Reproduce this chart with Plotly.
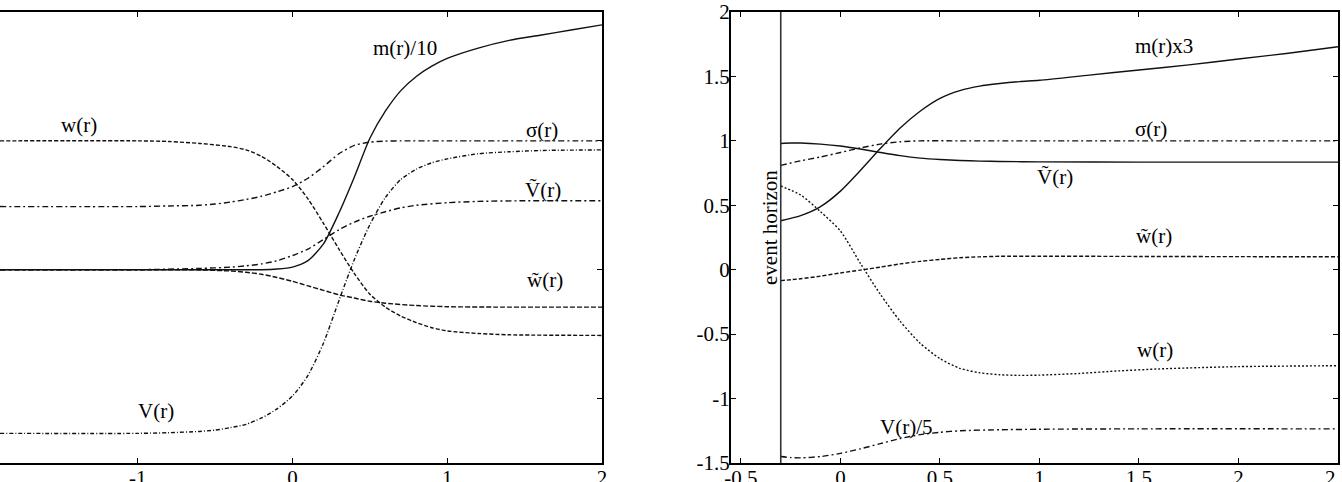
import plotly.graph_objects as go

# ---------------- Left panel data ----------------
m10_x = [-1.89, -1.0, -0.5, -0.3, -0.2, -0.1, 0.0, 0.1, 0.2, 0.3, 0.4, 0.5, 0.6, 0.7, 0.8, 0.9, 1.0, 1.2, 1.4, 1.6, 1.8, 2.0]
m10_y = [0.0, 0.0, 0.0, 0.0, 0.0, 0.005, 0.02, 0.07, 0.2, 0.44, 0.72, 1.02, 1.23, 1.39, 1.50, 1.58, 1.64, 1.72, 1.78, 1.82, 1.86, 1.90]

wL_x = [-1.89, -1.0, -0.8, -0.6, -0.4, -0.3, -0.2, -0.1, 0.0, 0.1, 0.2, 0.3, 0.4, 0.5, 0.6, 0.7, 0.8, 0.9, 1.0, 1.2, 1.4, 2.0]
wL_y = [1.0, 1.0, 0.995, 0.98, 0.955, 0.93, 0.88, 0.80, 0.70, 0.55, 0.36, 0.16, -0.03, -0.19, -0.29, -0.36, -0.41, -0.45, -0.475, -0.495, -0.505, -0.51]

sigL_x = [-1.89, -1.0, -0.8, -0.6, -0.5, -0.4, -0.3, -0.2, -0.1, 0.0, 0.1, 0.2, 0.3, 0.4, 0.5, 0.6, 0.7, 1.0, 2.0]
sigL_y = [0.49, 0.49, 0.495, 0.50, 0.51, 0.525, 0.545, 0.57, 0.605, 0.645, 0.71, 0.80, 0.90, 0.965, 0.99, 0.998, 1.0, 1.0, 1.0]

VtL_x = [-1.89, -1.0, -0.6, -0.4, -0.3, -0.2, -0.1, 0.0, 0.1, 0.2, 0.3, 0.4, 0.5, 0.6, 0.7, 0.8, 1.0, 1.2, 1.5, 2.0]
VtL_y = [0.0, 0.0, 0.01, 0.02, 0.03, 0.045, 0.07, 0.11, 0.16, 0.235, 0.31, 0.37, 0.415, 0.45, 0.48, 0.50, 0.52, 0.53, 0.535, 0.535]

wtL_x = [-1.89, -1.0, -0.6, -0.4, -0.3, -0.2, -0.1, 0.0, 0.1, 0.2, 0.3, 0.4, 0.5, 0.6, 0.8, 1.0, 1.3, 2.0]
wtL_y = [0.0, 0.0, -0.002, -0.01, -0.02, -0.035, -0.06, -0.09, -0.125, -0.16, -0.195, -0.22, -0.245, -0.26, -0.278, -0.287, -0.29, -0.29]

VL_x = [-1.89, -1.0, -0.8, -0.6, -0.5, -0.4, -0.3, -0.2, -0.1, 0.0, 0.1, 0.2, 0.3, 0.4, 0.5, 0.6, 0.7, 0.8, 0.9, 1.0, 1.2, 1.4, 1.6, 2.0]
VL_y = [-1.27, -1.27, -1.265, -1.255, -1.245, -1.225, -1.20, -1.15, -1.08, -0.98, -0.82, -0.57, -0.24, 0.08, 0.35, 0.56, 0.70, 0.78, 0.83, 0.86, 0.90, 0.915, 0.925, 0.93]

# ---------------- Right panel data ----------------
m3_x = [-0.3, -0.2, -0.1, 0.0, 0.1, 0.2, 0.3, 0.4, 0.5, 0.6, 0.7, 0.8, 0.9, 1.0, 1.25, 1.5, 1.75, 2.0, 2.25, 2.5]
m3_y = [0.38, 0.42, 0.49, 0.61, 0.77, 0.94, 1.10, 1.23, 1.33, 1.39, 1.425, 1.445, 1.46, 1.47, 1.51, 1.55, 1.59, 1.635, 1.68, 1.73]

VtR_x = [-0.3, -0.25, -0.2, -0.1, 0.0, 0.1, 0.2, 0.3, 0.4, 0.5, 0.6, 0.7, 0.8, 1.0, 1.5, 2.5]
VtR_y = [0.98, 0.983, 0.983, 0.975, 0.96, 0.937, 0.91, 0.885, 0.866, 0.855, 0.848, 0.843, 0.84, 0.837, 0.835, 0.835]

sigR_x = [-0.3, -0.2, -0.1, 0.0, 0.1, 0.2, 0.3, 0.4, 0.6, 1.0, 2.5]
sigR_y = [0.81, 0.845, 0.875, 0.91, 0.945, 0.975, 0.993, 1.0, 1.0, 1.0, 1.0]

wR_x = [-0.3, -0.2, -0.1, 0.0, 0.1, 0.2, 0.3, 0.4, 0.5, 0.6, 0.7, 0.8, 0.9, 1.0, 1.2, 1.4, 1.6, 1.8, 2.0, 2.5]
wR_y = [0.65, 0.58, 0.45, 0.30, 0.05, -0.19, -0.40, -0.57, -0.69, -0.765, -0.80, -0.815, -0.82, -0.818, -0.805, -0.785, -0.77, -0.76, -0.752, -0.745]

wtR_x = [-0.3, -0.2, -0.1, 0.0, 0.1, 0.2, 0.3, 0.4, 0.5, 0.6, 0.7, 0.8, 1.0, 1.5, 2.5]
wtR_y = [-0.085, -0.07, -0.05, -0.025, -0.003, 0.02, 0.045, 0.065, 0.08, 0.093, 0.10, 0.104, 0.105, 0.103, 0.10]

V5_x = [-0.3, -0.25, -0.2, -0.1, 0.0, 0.1, 0.2, 0.3, 0.4, 0.5, 0.6, 0.8, 1.0, 1.5, 2.5]
V5_y = [-1.45, -1.458, -1.46, -1.45, -1.425, -1.39, -1.35, -1.31, -1.28, -1.262, -1.25, -1.242, -1.238, -1.235, -1.235]

horizon_x = -0.3
y_limits = [-1.5, 2.0]

# ticks
left_xticks = [-1, 0, 1, 2]
left_xticktext = ["-1", "0", "1", "2"]
left_yticks = [-1, 0, 1, 2]
right_xticks = [-0.5, 0, 0.5, 1, 1.5, 2, 2.5]
right_xticktext = ["-0.5", "0", "0.5", "1", "1.5", "2", "2.5"]
right_yticks = [-1.5, -1, -0.5, 0, 0.5, 1, 1.5, 2]
right_yticktext = ["-1.5", "-1", "-0.5", "0", "0.5", "1", "1.5", "2"]

FONT = "Liberation Serif, Times New Roman, serif"
INK = "#111111"
W = 1.4

fig = go.Figure()

def add(x, y, dash, xa, ya):
    fig.add_trace(go.Scatter(x=x, y=y, mode="lines", xaxis=xa, yaxis=ya,
                             line=dict(color=INK, width=W, dash=dash, shape="spline", smoothing=0.7),
                             hoverinfo="skip"))

# left
add(m10_x, m10_y, "solid", "x", "y")
add(wL_x, wL_y, "4px,2px", "x", "y")
add(sigL_x, sigL_y, "6px,3px,2px,3px", "x", "y")
add(VtL_x, VtL_y, "6px,3px,2px,3px", "x", "y")
add(wtL_x, wtL_y, "5px,2px", "x", "y")
add(VL_x, VL_y, "4px,2px,1px,2px", "x", "y")

# right
add(m3_x, m3_y, "solid", "x2", "y2")
add(VtR_x, VtR_y, "solid", "x2", "y2")
add(sigR_x, sigR_y, "6px,3px,2px,3px", "x2", "y2")
add(wR_x, wR_y, "2px,2px", "x2", "y2")
add(wtR_x, wtR_y, "4px,2px", "x2", "y2")
add(V5_x, V5_y, "6px,3px,2px,3px", "x2", "y2")
fig.add_trace(go.Scatter(x=[horizon_x, horizon_x], y=y_limits, mode="lines", xaxis="x2", yaxis="y2",
                         line=dict(color="#333333", width=1.6), hoverinfo="skip"))

axis_common = dict(showgrid=False, zeroline=False, showline=True, linecolor="black", linewidth=2,
                   ticks="inside", ticklen=5, tickwidth=1, tickcolor="black", automargin=False,
                   tickfont=dict(family=FONT, size=21, color="black"))

fig.update_layout(
    width=1342, height=482,
    margin=dict(l=0, r=0, t=12, b=19),
    paper_bgcolor="white", plot_bgcolor="white",
    showlegend=False,
    xaxis=dict(domain=[0, 602 / 1342], range=[-1.89, 2.0], tickvals=left_xticks, ticktext=left_xticktext,
               mirror="ticks", anchor="y", ticklabeloverflow="allow", ticklabelstandoff=-5, **axis_common),
    yaxis=dict(domain=[0, 1], range=y_limits, tickvals=left_yticks, showticklabels=False,
               side="right", mirror=False, anchor="x", **axis_common),
    xaxis2=dict(domain=[731 / 1342, 1338 / 1342], range=[-0.55, 2.5], tickvals=right_xticks,
                ticktext=right_xticktext, mirror="ticks", anchor="y2", ticklabeloverflow="allow",
                ticklabelstandoff=-5, **axis_common),
    yaxis2=dict(domain=[0, 1], range=y_limits, tickvals=right_yticks, ticktext=right_yticktext,
                mirror="ticks", anchor="x2", ticklabelstandoff=-5, **axis_common),
)

labels = [
    ("m(r)/10", 0.727, 1.72, "x", "y", 0),
    ("w(r)", -1.38, 1.125, "x", "y", 0),
    ("σ(r)", 1.61, 1.086, "x", "y", 0),
    ("Ṽ(r)", 1.62, 0.62, "x", "y", 0),
    ("w̃(r)", 1.63, -0.08, "x", "y", 0),
    ("V(r)", -0.88, -1.10, "x", "y", 0),
    ("m(r)x3", 1.625, 1.74, "x2", "y2", 0),
    ("σ(r)", 1.56, 1.09, "x2", "y2", 0),
    ("Ṽ(r)", 1.08, 0.72, "x2", "y2", 0),
    ("w̃(r)", 1.575, 0.26, "x2", "y2", 0),
    ("w(r)", 1.58, -0.62, "x2", "y2", 0),
    ("V(r)/5", 0.33, -1.22, "x2", "y2", 0),
    ("event horizon", -0.355, 0.33, "x2", "y2", -90),
]
for text, x, y, xr, yr, ang in labels:
    fig.add_annotation(text=text, x=x, y=y, xref=xr, yref=yr, showarrow=False,
                       xanchor="center", yanchor="middle", textangle=ang,
                       font=dict(family=FONT, size=21, color="black"))

fig.write_html("out.html")
